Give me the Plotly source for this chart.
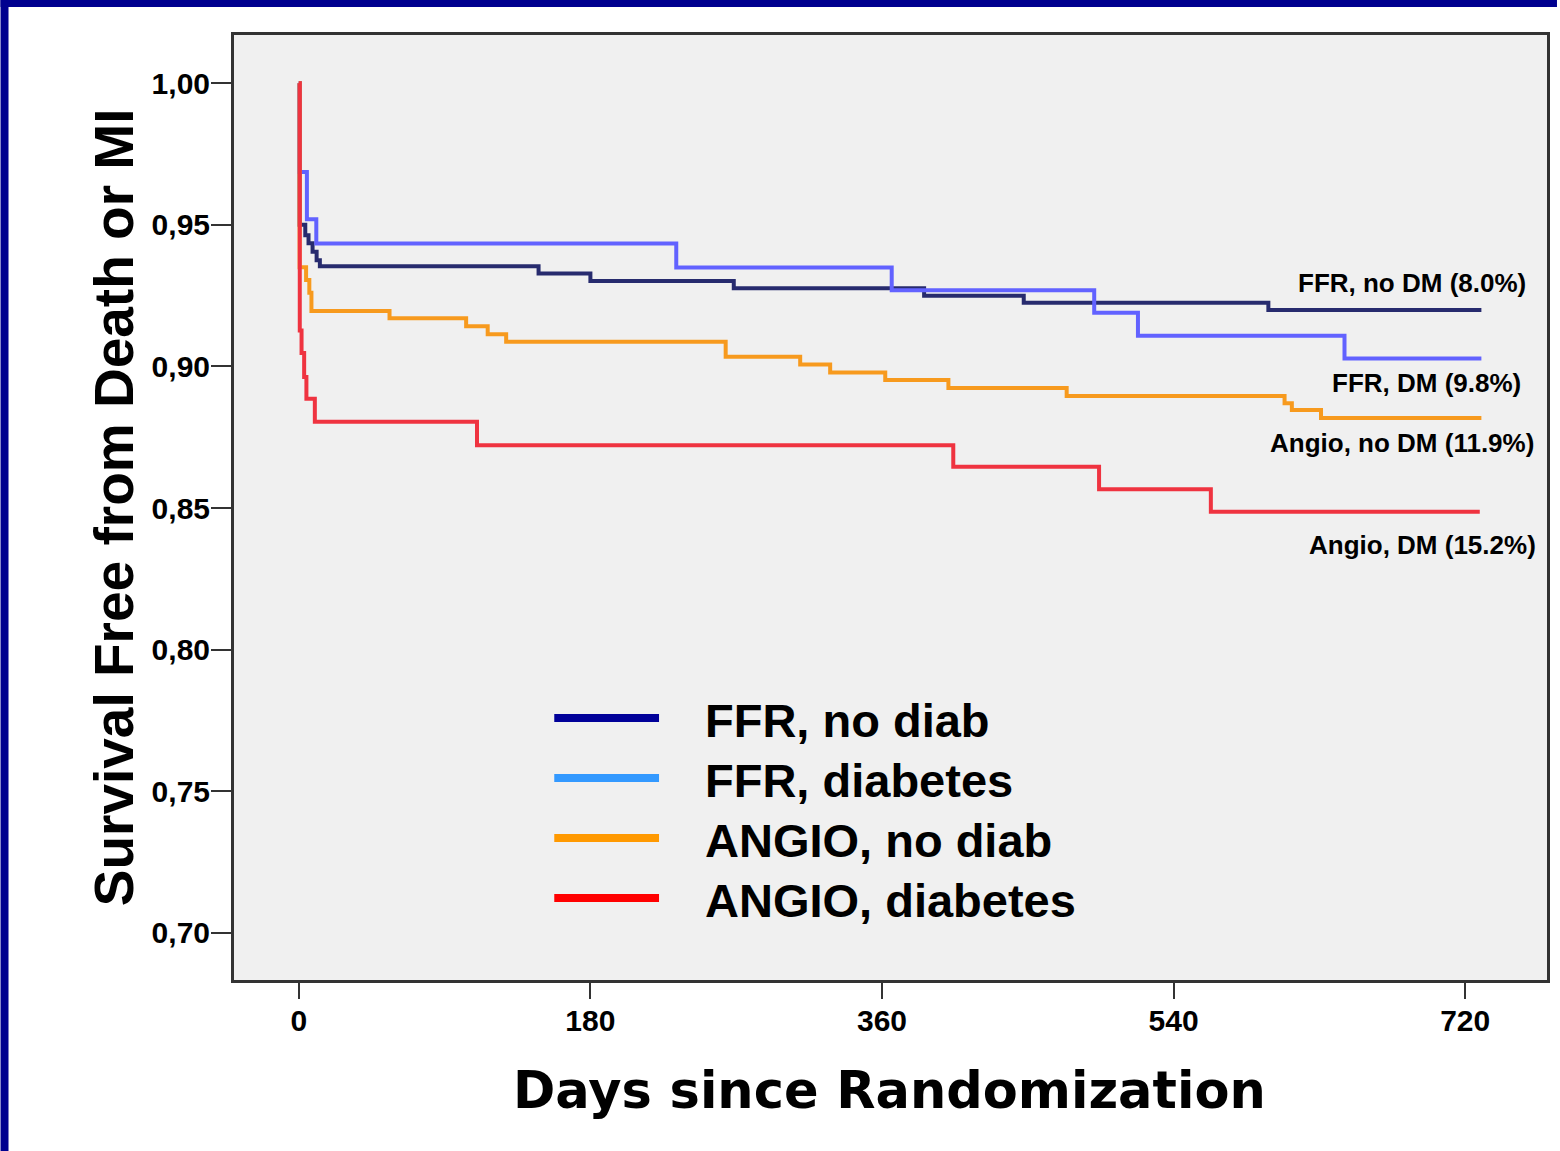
import plotly.graph_objects as go

# ---------------- data ----------------
ffr_nodm_days = [0, 0.5, 4, 6, 8.5, 11, 13, 148, 180, 268.5, 386, 447.5, 598.5, 730]
ffr_nodm_surv = [1.0, 0.950, 0.9463, 0.9435, 0.9405, 0.9375, 0.9354, 0.9328, 0.9302, 0.9276, 0.9250, 0.9225, 0.9199, 0.9199]

ffr_dm_days = [0, 0.5, 5, 10.8, 233, 366, 491, 518, 645.5, 730]
ffr_dm_surv = [1.0, 0.9687, 0.9520, 0.9434, 0.9349, 0.9269, 0.9190, 0.9108, 0.9028, 0.9028]

angio_nodm_days = [0, 0.5, 4.5, 6.5, 7.8, 56, 103.3, 116.6, 128, 263.5, 309.5, 328, 362, 401, 474, 608.5, 613, 631, 730]
angio_nodm_surv = [1.0, 0.935, 0.9305, 0.926, 0.9196, 0.9170, 0.9142, 0.9114, 0.9087, 0.9034, 0.9007, 0.8979, 0.8952, 0.8924, 0.8896, 0.8870, 0.8846, 0.8818, 0.8818]

angio_dm_days = [0, 0.6, 1.7, 3.3, 4.7, 9.9, 110, 404, 494, 563, 729]
angio_dm_surv = [1.0, 0.9127, 0.9047, 0.8963, 0.8886, 0.8805, 0.8722, 0.8646, 0.8566, 0.8487, 0.8487]

curve_names = ["FFR, no diab", "FFR, diabetes", "ANGIO, no diab", "ANGIO, diabetes"]
curve_colors = ["#272b6e", "#6262ff", "#f79a1e", "#ef3340"]
legend_colors = ["#000099", "#3399ff", "#ff9900", "#ff0000"]
end_labels = ["FFR, no DM (8.0%)", "FFR, DM (9.8%)", "Angio, no DM (11.9%)", "Angio, DM (15.2%)"]

x_tick_vals = [0, 180, 360, 540, 720]
x_tick_text = ["0", "180", "360", "540", "720"]
y_tick_vals = [0.70, 0.75, 0.80, 0.85, 0.90, 0.95, 1.00]
y_tick_text = ["0,70", "0,75", "0,80", "0,85", "0,90", "0,95", "1,00"]

# ---------------- layout geometry ----------------
W, H = 1560, 1151
L, R, T, B = 234, 1550, 35, 980


def px(xp):
    return (xp - L) / (R - L)


def py(yp):
    return (B - yp) / (B - T)


fig = go.Figure()
series = [
    (ffr_nodm_days, ffr_nodm_surv),
    (ffr_dm_days, ffr_dm_surv),
    (angio_nodm_days, angio_nodm_surv),
    (angio_dm_days, angio_dm_surv),
]
for (d, s), name, col in zip(series, curve_names, curve_colors):
    fig.add_trace(go.Scatter(x=d, y=s, mode="lines", name=name,
                             line=dict(color=col, width=4, shape="hv"),
                             showlegend=False))

shapes = []
annotations = []

# blue slide frame (top and left)
shapes.append(dict(type="rect", xref="paper", yref="paper",
                   x0=px(0), x1=px(W), y0=py(7), y1=py(0),
                   fillcolor="#00008f", line=dict(width=0), layer="above"))
shapes.append(dict(type="rect", xref="paper", yref="paper",
                   x0=px(0), x1=px(8), y0=py(H), y1=py(0),
                   fillcolor="#00008f", line=dict(width=0), layer="above"))

# manual legend
leg_rows = [718, 778, 838, 898]
for yrow, name, col in zip(leg_rows, curve_names, legend_colors):
    shapes.append(dict(type="line", xref="paper", yref="paper",
                       x0=px(555), x1=px(660), y0=py(yrow), y1=py(yrow),
                       line=dict(color=col, width=8)))
    annotations.append(dict(text=name, xref="paper", yref="paper",
                            x=px(704), y=py(yrow + 2), xanchor="left", yanchor="middle",
                            showarrow=False,
                            font=dict(family="Liberation Sans, Arial", size=47, color="#000000",
                                      weight="bold")))

# end-of-curve labels
label_pos = [(1531, 283), (1526, 383), (1539, 443), (1541, 545)]
for (xr, yc), txt in zip(label_pos, end_labels):
    annotations.append(dict(text=txt, xref="paper", yref="paper",
                            x=px(xr), y=py(yc), xanchor="right", yanchor="middle",
                            showarrow=False,
                            font=dict(family="Liberation Sans, Arial", size=26, color="#000000",
                                      weight="bold")))

# axis titles
annotations.append(dict(text="Survival Free from Death or MI", xref="paper", yref="paper",
                        x=px(114), y=py(507), xanchor="center", yanchor="middle",
                        textangle=-90, showarrow=False,
                        font=dict(family="Liberation Sans, Arial", size=55, color="#000000",
                                  weight="bold")))
annotations.append(dict(text="Days since Randomization", xref="paper", yref="paper",
                        x=px(891), y=py(1090), xanchor="center", yanchor="middle",
                        showarrow=False,
                        font=dict(family="DejaVu Sans", size=51, color="#000000",
                                  weight="bold")))

axis_common = dict(showline=True, mirror=True, linecolor="#333333", linewidth=3,
                   ticks="outside", tickwidth=2, tickcolor="#333333",
                   showgrid=False, zeroline=False,
                   tickfont=dict(family="Liberation Sans, Arial", size=30, color="#000000",
                                 weight="bold"))

fig.update_layout(
    width=W, height=H,
    margin=dict(l=L, r=W - R, t=T, b=H - B),
    paper_bgcolor="#ffffff",
    plot_bgcolor="#f0f0f0",
    xaxis=dict(range=[-40.0, 770.5], tickvals=x_tick_vals, ticktext=x_tick_text,
               ticklen=16, ticklabelstandoff=-4, **axis_common),
    yaxis=dict(range=[0.68329, 1.01706], tickvals=y_tick_vals, ticktext=y_tick_text,
               ticklen=20, ticklabelstandoff=-5, **axis_common),
    shapes=shapes,
    annotations=annotations,
)

fig.write_html("out.html", config={"displayModeBar": False},
               post_script="document.body.style.margin='0';")
